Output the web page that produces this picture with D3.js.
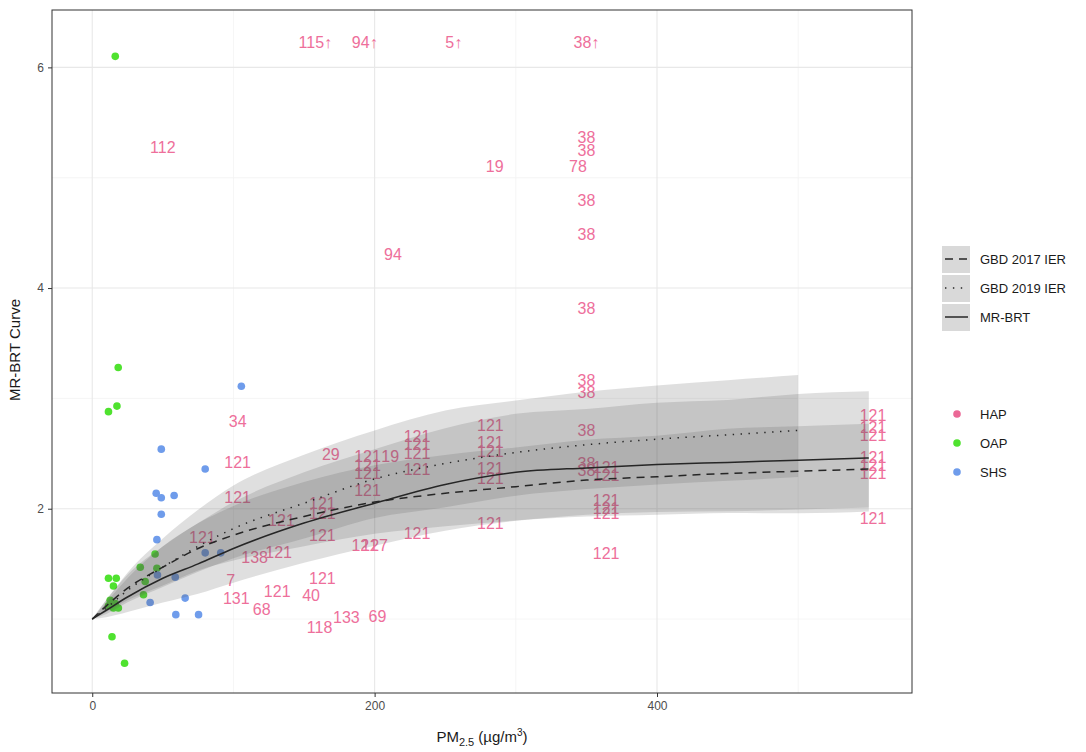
<!DOCTYPE html>
<html lang="en">
<head>
<meta charset="UTF-8">
<title>MR-BRT curve vs PM2.5</title>
<script src="https://d3js.org/d3.v7.min.js"></script>
<style>
    body { margin: 0; background: white; font-family: "Liberation Sans", Arial, sans-serif; }
    svg { display: block; }
    .tick-label { font-size: 12px; fill: #4d4d4d; }
    .axis-title { font-size: 15px; fill: #1a1a1a; }
    .legend-text { font-size: 13px; fill: #1a1a1a; }
    .hap { font-size: 16px; fill: #ee6f9b; }
</style>
</head>
<body>
<svg id="chart" width="1086" height="752"></svg>
<script>
// curve grid (PM2.5, ug/m3)
const pmGrid = [0, 10, 25, 50, 75, 100, 150, 200, 250, 300, 350, 400, 450, 500, 550];

// MR-BRT
const mrbrtMean  = [1.0, 1.08, 1.2, 1.37, 1.5, 1.64, 1.87, 2.05, 2.22, 2.33, 2.37, 2.40, 2.42, 2.44, 2.46];
const mrbrtLower = [1.0, 1.017, 1.064, 1.150, 1.230, 1.330, 1.510, 1.665, 1.800, 1.890, 1.930, 1.946, 1.962, 1.958, 1.974];
const mrbrtUpper = [1.0, 1.150, 1.370, 1.660, 1.870, 2.060, 2.330, 2.540, 2.730, 2.860, 2.905, 2.961, 2.986, 3.040, 3.065];

// GBD 2017 IER
const gbd17Mean  = [1.0, 1.12, 1.28, 1.47, 1.64, 1.76, 1.93, 2.06, 2.14, 2.20, 2.26, 2.29, 2.32, 2.34, 2.36];
const gbd17Lower = [1.0, 1.065, 1.170, 1.304, 1.440, 1.530, 1.661, 1.773, 1.842, 1.894, 1.945, 1.971, 1.977, 1.994, 2.011];
const gbd17Upper = [1.0, 1.177, 1.401, 1.657, 1.868, 2.024, 2.242, 2.394, 2.487, 2.556, 2.626, 2.661, 2.724, 2.747, 2.771];

// GBD 2019 IER (stops at 500)
const gbd19Mean  = [1.0, 1.1, 1.26, 1.47, 1.66, 1.82, 2.05, 2.27, 2.41, 2.51, 2.58, 2.63, 2.67, 2.71];
const gbd19Lower = [1.0, 1.046, 1.152, 1.291, 1.429, 1.551, 1.730, 1.916, 2.013, 2.118, 2.178, 2.220, 2.253, 2.287];
const gbd19Upper = [1.0, 1.170, 1.420, 1.730, 1.990, 2.210, 2.490, 2.710, 2.890, 2.980, 3.060, 3.117, 3.164, 3.211];

// OAP points [pm, rr]
const oapPoints = [[16.3, 6.10], [18.4, 3.28], [17.5, 2.93], [11.5, 2.88], [11.5, 1.37], [17, 1.37],
    [15, 1.30], [12.7, 1.17], [16.3, 1.14], [15, 1.10], [11.5, 1.12], [18.5, 1.10], [13, 1.13],
    [14, 0.84], [22.9, 0.60], [44.5, 1.59], [34, 1.47], [45.8, 1.46], [37.5, 1.34], [36.3, 1.22]];

// SHS points [pm, rr]
const shsPoints = [[105.6, 3.11], [48.9, 2.54], [80, 2.36], [45.3, 2.14], [48.9, 2.10], [58, 2.12],
    [48.9, 1.95], [45.8, 1.72], [80, 1.60], [91, 1.60], [46.2, 1.40], [58.8, 1.38], [41, 1.15],
    [65.8, 1.19], [59.2, 1.04], [75.3, 1.04]];

// HAP study labels [pm, rr, label]
const hapLabels = [
    [158, 6.23, "115\u2191"], [193, 6.23, "94\u2191"], [256, 6.23, "5\u2191"], [350, 6.23, "38\u2191"],
    [50, 5.28, "112"], [285, 5.10, "19"], [344, 5.10, "78"],
    [350, 5.37, "38"], [350, 5.25, "38"], [350, 4.80, "38"], [350, 4.49, "38"], [350, 3.82, "38"],
    [350, 3.16, "38"], [350, 3.06, "38"], [350, 2.71, "38"], [350, 2.41, "38"], [350, 2.35, "38"],
    [213, 4.31, "94"], [103, 2.79, "34"], [103, 2.42, "121"], [103, 2.10, "121"], [169, 2.49, "29"],
    [78, 1.74, "121"], [132, 1.61, "121"], [115, 1.56, "138"], [134, 1.90, "121"],
    [163, 2.05, "121"], [163, 1.96, "121"], [163, 1.76, "121"], [163, 1.37, "121"],
    [98, 1.35, "7"], [102, 1.19, "131"], [131, 1.25, "121"], [120, 1.09, "68"], [155, 1.22, "40"],
    [161, 0.93, "118"], [180, 1.02, "133"], [202, 1.03, "69"],
    [195, 2.48, "121"], [211, 2.48, "19"], [195, 2.39, "121"], [195, 2.32, "121"], [195, 2.17, "121"],
    [193, 1.67, "121"], [200, 1.67, "127"],
    [230, 2.66, "121"], [230, 2.58, "121"], [230, 2.50, "121"], [230, 2.36, "121"], [230, 1.78, "121"],
    [282, 2.76, "121"], [282, 2.60, "121"], [282, 2.52, "121"], [282, 2.37, "121"], [282, 2.28, "121"], [282, 1.87, "121"],
    [364, 2.38, "121"], [364, 2.30, "121"], [364, 2.08, "121"], [364, 2.00, "121"], [364, 1.96, "121"], [364, 1.60, "121"],
    [553, 2.85, "121"], [553, 2.74, "121"], [553, 2.67, "121"], [553, 2.47, "121"], [553, 2.39, "121"], [553, 2.32, "121"], [553, 1.91, "121"]
];

const xTicks = [0, 200, 400];
const xMinor = [100, 300, 500];
const yTicks = [2, 4, 6];
const yMinor = [1, 3, 5];
const curveNames = ["GBD 2017 IER", "GBD 2019 IER", "MR-BRT"];
const groupNames = ["HAP", "OAP", "SHS"];
const groupColors = ["#eb6896", "#4fe22f", "#6f9ceb"];

const panel = { left: 52, right: 912, top: 10, bottom: 693 };
const svg = d3.select("#chart");

const x = d3.scaleLinear().domain([-28.5, 580.6]).range([panel.left, panel.right]);
const y = d3.scaleLinear().domain([0.33, 6.52]).range([panel.bottom, panel.top]);

// grid
const grid = svg.append("g");
grid.selectAll(".xminor").data(xMinor).enter().append("line")
    .attr("x1", d => x(d)).attr("x2", d => x(d)).attr("y1", panel.top).attr("y2", panel.bottom)
    .attr("stroke", "#f2f2f2").attr("stroke-width", 0.8);
grid.selectAll(".yminor").data(yMinor).enter().append("line")
    .attr("y1", d => y(d)).attr("y2", d => y(d)).attr("x1", panel.left).attr("x2", panel.right)
    .attr("stroke", "#f2f2f2").attr("stroke-width", 0.8);
grid.selectAll(".xmajor").data(xTicks).enter().append("line")
    .attr("x1", d => x(d)).attr("x2", d => x(d)).attr("y1", panel.top).attr("y2", panel.bottom)
    .attr("stroke", "#e8e8e8").attr("stroke-width", 1.1);
grid.selectAll(".ymajor").data(yTicks).enter().append("line")
    .attr("y1", d => y(d)).attr("y2", d => y(d)).attr("x1", panel.left).attr("x2", panel.right)
    .attr("stroke", "#e8e8e8").attr("stroke-width", 1.1);

// points
svg.append("g").selectAll("circle").data(oapPoints).enter().append("circle")
    .attr("cx", d => x(d[0])).attr("cy", d => y(d[1])).attr("r", 3.8).attr("fill", groupColors[1]);
svg.append("g").selectAll("circle").data(shsPoints).enter().append("circle")
    .attr("cx", d => x(d[0])).attr("cy", d => y(d[1])).attr("r", 3.8).attr("fill", groupColors[2]);

// HAP labels
svg.append("g").selectAll("text").data(hapLabels).enter().append("text")
    .attr("class", "hap")
    .attr("x", d => x(d[0])).attr("y", d => y(d[1]))
    .attr("dy", "0.36em").attr("text-anchor", "middle")
    .text(d => d[2]);

// ribbons
function ribbonData(lo, hi) {
    return lo.map((v, i) => ({ pm: pmGrid[i], lo: v, hi: hi[i] }));
}
const area = d3.area().x(d => x(d.pm)).y0(d => y(d.lo)).y1(d => y(d.hi)).curve(d3.curveMonotoneX);
[[mrbrtLower, mrbrtUpper], [gbd17Lower, gbd17Upper], [gbd19Lower, gbd19Upper]].forEach(r => {
    svg.append("path").datum(ribbonData(r[0], r[1]))
        .attr("d", area).attr("fill", "#555").attr("fill-opacity", 0.19);
});

// curves
const line = d3.line().x(d => x(d.pm)).y(d => y(d.v)).curve(d3.curveMonotoneX);
const dashes = ["8,6", "1.4,6.5", null];
[gbd17Mean, gbd19Mean, mrbrtMean].forEach((m, i) => {
    svg.append("path").datum(m.map((v, j) => ({ pm: pmGrid[j], v: v })))
        .attr("d", line).attr("fill", "none").attr("stroke", "#262626")
        .attr("stroke-width", 1.5).attr("stroke-dasharray", dashes[i]);
});

// panel border
svg.append("rect").attr("x", panel.left).attr("y", panel.top)
    .attr("width", panel.right - panel.left).attr("height", panel.bottom - panel.top)
    .attr("fill", "none").attr("stroke", "#333").attr("stroke-width", 1);

// axes
const xAxis = svg.append("g").attr("transform", `translate(0,${panel.bottom})`)
    .call(d3.axisBottom(x).tickValues(xTicks).tickFormat(d3.format("d")).tickSize(4).tickPadding(4));
const yAxis = svg.append("g").attr("transform", `translate(${panel.left},0)`)
    .call(d3.axisLeft(y).tickValues(yTicks).tickFormat(d3.format("d")).tickSize(4).tickPadding(4));
[xAxis, yAxis].forEach(a => {
    a.select(".domain").remove();
    a.selectAll(".tick line").attr("stroke", "#333");
    a.selectAll(".tick text").attr("class", "tick-label").attr("font-family", null).attr("font-size", null);
});

// axis titles
svg.append("text").attr("class", "axis-title")
    .attr("transform", "translate(20,350) rotate(-90)").attr("text-anchor", "middle")
    .text("MR-BRT Curve");
const xt = svg.append("text").attr("class", "axis-title")
    .attr("x", 482).attr("y", 742).attr("text-anchor", "middle");
xt.append("tspan").text("PM");
xt.append("tspan").attr("font-size", "11px").attr("dy", 4).text("2.5");
xt.append("tspan").attr("dy", -4).text(" (\u00b5g/m");
xt.append("tspan").attr("font-size", "10px").attr("dy", -6).text("3");
xt.append("tspan").attr("dy", 6).text(")");

// legend: curves
const lg = svg.append("g");
curveNames.forEach((name, i) => {
    const cy = 259 + i * 29;
    lg.append("rect").attr("x", 942).attr("y", cy - 13).attr("width", 28).attr("height", 27)
        .attr("fill", "#d9d9d9");
    lg.append("line").attr("x1", 945).attr("x2", 968).attr("y1", cy).attr("y2", cy)
        .attr("stroke", "#262626").attr("stroke-width", 1.5).attr("stroke-dasharray", dashes[i]);
    lg.append("text").attr("class", "legend-text").attr("x", 980).attr("y", cy).attr("dy", "0.35em").text(name);
});

// legend: groups
groupNames.forEach((name, i) => {
    const cy = 414 + i * 29;
    lg.append("circle").attr("cx", 957).attr("cy", cy).attr("r", 3.8).attr("fill", groupColors[i]);
    lg.append("text").attr("class", "legend-text").attr("x", 980).attr("y", cy).attr("dy", "0.35em").text(name);
});
</script>
</body>
</html>
